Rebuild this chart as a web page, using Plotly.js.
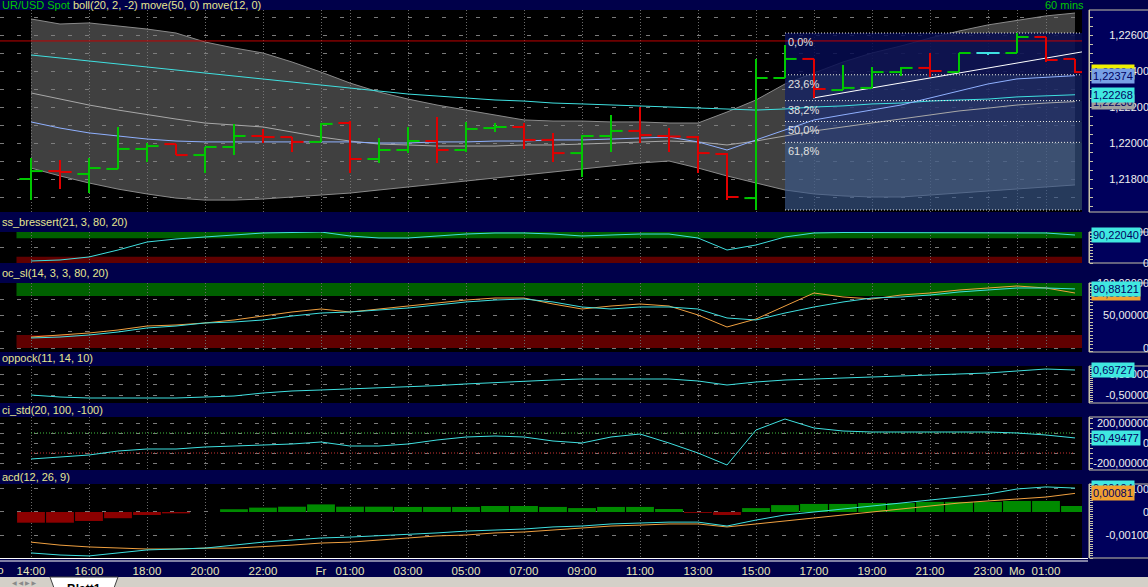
<!DOCTYPE html>
<html><head><meta charset="utf-8">
<script src="https://cdn.plot.ly/plotly-3.0.1.min.js"></script>
<style>html,body{margin:0;padding:0;background:#00004a;overflow:hidden}#chart{width:1152px;height:587px}</style>
</head><body><div id="chart"></div>
<script>
// ---------------- DATA ----------------
const hours = ['Do 14:00','Do 15:00','Do 16:00','Do 17:00','Do 18:00','Do 19:00','Do 20:00','Do 21:00','Do 22:00','Do 23:00',
 'Fr 00:00','Fr 01:00','Fr 02:00','Fr 03:00','Fr 04:00','Fr 05:00','Fr 06:00','Fr 07:00','Fr 08:00','Fr 09:00','Fr 10:00','Fr 11:00',
 'Fr 12:00','Fr 13:00','Fr 14:00','Fr 15:00','Fr 16:00','Fr 17:00','Fr 18:00','Fr 19:00','Fr 20:00','Fr 21:00','Fr 22:00','Fr 23:00',
 'Mo 00:00','Mo 01:00','Mo 02:00'];
const tickIdx  = [0,2,4,6,8,10,11,13,15,17,19,21,23,25,27,29,31,33,34,35];
const tickText = ['14:00','16:00','18:00','20:00','22:00','Fr','01:00','03:00','05:00','07:00','09:00','11:00','13:00','15:00','17:00','19:00','21:00','23:00','Mo','01:00'];

const barOpen  = [1.21800,1.21844,1.21828,1.21856,1.21967,1.21994,1.21933,1.21978,1.22039,1.22033,1.22006,1.22111,1.21911,1.21961,1.22011,1.21961,1.22083,1.22089,1.22017,1.21944,1.22039,1.22067,1.22039,1.22033,1.21939,1.21694,1.22361,1.22467,1.22294,1.22306,1.22394,1.22417,1.22394,1.22500,1.22500,1.22589,1.22467];
const barHigh  = [1.21917,1.21906,1.21917,1.22089,1.22000,1.21994,1.21978,1.22106,1.22078,1.22033,1.22111,1.22122,1.22028,1.22089,1.22144,1.22117,1.22111,1.22111,1.22056,1.22044,1.22156,1.22200,1.22083,1.22039,1.21944,1.22467,1.22544,1.22467,1.22433,1.22422,1.22422,1.22500,1.22500,1.22506,1.22611,1.22589,1.22467];
const barLow   = [1.21683,1.21744,1.21722,1.21856,1.21894,1.21933,1.21833,1.21933,1.22000,1.21950,1.22006,1.21833,1.21889,1.21944,1.21889,1.21950,1.22061,1.21967,1.21894,1.21811,1.21950,1.22000,1.21950,1.21833,1.21683,1.21628,1.22361,1.22250,1.22294,1.22306,1.22372,1.22367,1.22394,1.22489,1.22500,1.22450,1.22389];
const barClose = [1.21844,1.21839,1.21861,1.21967,1.21983,1.21933,1.21978,1.22039,1.22033,1.22006,1.22106,1.21911,1.21961,1.22011,1.21961,1.22078,1.22089,1.22017,1.21944,1.22039,1.22067,1.22044,1.22036,1.21944,1.21700,1.22361,1.22467,1.22300,1.22306,1.22394,1.22417,1.22400,1.22500,1.22500,1.22589,1.22461,1.22394];

const bollUpper = [1.22689,1.22661,1.22667,1.22650,1.22633,1.22611,1.22561,1.22528,1.22500,1.22450,1.22394,1.22333,1.22283,1.22244,1.22211,1.22183,1.22156,1.22128,1.22122,1.22122,1.22117,1.22117,1.22111,1.22111,1.22172,1.22239,1.22328,1.22389,1.22450,1.22500,1.22539,1.22583,1.22622,1.22656,1.22683,1.22706,1.22722];
const bollLower = [1.21861,1.21817,1.21778,1.21744,1.21717,1.21694,1.21683,1.21683,1.21689,1.21700,1.21711,1.21722,1.21739,1.21756,1.21772,1.21789,1.21806,1.21822,1.21839,1.21856,1.21872,1.21889,1.21900,1.21861,1.21817,1.21778,1.21739,1.21717,1.21706,1.21700,1.21700,1.21711,1.21722,1.21733,1.21744,1.21756,1.21767];
const bollMid   = [1.22278,1.22244,1.22211,1.22183,1.22156,1.22133,1.22111,1.22100,1.22089,1.22061,1.22033,1.22011,1.21994,1.21989,1.21983,1.21983,1.21983,1.21989,1.21989,1.21994,1.22000,1.22006,1.22011,1.22006,1.21989,1.22011,1.22039,1.22067,1.22089,1.22111,1.22133,1.22156,1.22178,1.22194,1.22211,1.22222,1.22230];
const ma50 = [1.22489,1.22472,1.22456,1.22439,1.22422,1.22406,1.22389,1.22372,1.22356,1.22339,1.22322,1.22306,1.22289,1.22272,1.22261,1.22250,1.22239,1.22233,1.22222,1.22217,1.22211,1.22206,1.22200,1.22194,1.22189,1.22183,1.22189,1.22200,1.22206,1.22217,1.22222,1.22233,1.22239,1.22244,1.22256,1.22261,1.22268];
const ma12 = [1.22117,1.22083,1.22056,1.22039,1.22022,1.22011,1.22006,1.22006,1.22006,1.22006,1.22006,1.22006,1.22000,1.22000,1.22006,1.22006,1.22011,1.22011,1.22017,1.22017,1.22022,1.22028,1.22033,1.22006,1.21961,1.22017,1.22072,1.22128,1.22156,1.22183,1.22211,1.22250,1.22289,1.22328,1.22356,1.22367,1.22374];
const resistanceLevel = 1.22567;
const trendX = [26.97, 36.24];
const trendY = [1.22250, 1.22506];
const fibRatios = [0, 0.236, 0.382, 0.5, 0.618, 1];
const fibStartIdx = 26;
const priceTicks = [1.217,1.218,1.219,1.220,1.221,1.222,1.223,1.224,1.225,1.226,1.227];

const bressert = [6.5,9.7,19.4,41.9,67.7,77.4,83.9,90.3,96.8,98.4,100,87.1,80.6,80.6,87.1,93.5,96.8,96.8,93.5,87.1,90.3,93.5,93.5,80.6,41.9,58.1,83.9,96.8,98.4,98.4,98.4,98.4,98.4,98.4,96.8,96.8,90.2204];
const stochK = [15.4,16.9,20.0,24.6,30.8,33.8,38.5,40.0,43.1,49.2,53.8,55.4,58.5,61.5,66.2,70.8,73.8,75.4,70.8,63.1,60.0,63.1,63.1,60.0,46.2,43.1,53.8,63.1,70.8,76.9,78.5,81.5,86.2,89.2,92.3,92.3,90.88121];
const stochD = [16.9,20.0,23.1,27.7,33.8,35.4,38.5,43.1,49.2,55.4,60.0,55.4,60.0,64.6,69.2,73.8,76.9,76.9,67.7,60.0,64.6,67.7,64.6,50.8,32.3,44.6,64.6,84.6,78.5,75.4,81.5,84.6,89.2,92.3,95.4,92.3,84.6];
const stochBands = {upper:[80,100], lower:[0,20]};
const coppock = [-0.500,-0.596,-0.644,-0.644,-0.644,-0.644,-0.596,-0.548,-0.404,-0.308,-0.260,-0.210,-0.160,-0.110,-0.050,0.030,0.100,0.160,0.218,0.266,0.266,0.266,0.266,0.171,-0.021,0.123,0.218,0.266,0.314,0.362,0.410,0.458,0.506,0.554,0.650,0.745,0.69727];
const cci = [-160,-140,-120,-80,-60,-60,-40,-30,-20,-10,10,-30,-30,-10,30,60,70,60,20,0,60,90,0,-100,-220,130,240,150,120,110,110,110,110,110,100,80,50.49477];
const cciLevels = [100, -100];
const macdLine = [-0.00178,-0.00187,-0.00191,-0.00178,-0.00165,-0.00161,-0.00157,-0.00144,-0.00131,-0.00122,-0.00113,-0.00109,-0.00104,-0.00096,-0.00091,-0.00083,-0.00078,-0.00074,-0.00065,-0.00061,-0.00052,-0.00048,-0.00044,-0.00044,-0.00061,-0.00035,-0.00013,0.00000,0.00013,0.00026,0.00039,0.00052,0.00065,0.00078,0.00100,0.00109,0.00104];
const macdSignal = [-0.00131,-0.00144,-0.00152,-0.00157,-0.00161,-0.00161,-0.00157,-0.00157,-0.00152,-0.00144,-0.00135,-0.00131,-0.00122,-0.00113,-0.00104,-0.00100,-0.00091,-0.00087,-0.00078,-0.00070,-0.00061,-0.00057,-0.00052,-0.00052,-0.00065,-0.00052,-0.00039,-0.00026,-0.00013,0.00000,0.00013,0.00026,0.00039,0.00048,0.00057,0.00065,0.00081];
const macdHist = [-0.000465,-0.000465,-0.00039,-0.00027,-0.00013,-0.00006,0,0.00012,0.00019,0.00023,0.00033,0.00023,0.00023,0.00022,0.00022,0.00022,0.00026,0.00026,0.00022,0.00017,0.00022,0.00022,0.00013,-0.00004,-0.00013,0.00017,0.00030,0.00035,0.00035,0.00039,0.00039,0.00044,0.00044,0.00044,0.00048,0.00048,0.00026];

// ---------------- LAYOUT GEOMETRY ----------------
const W = 1152, H = 587;   // figure is a few px wider than the window, so right-hand labels get clipped like the original
const PLOT_R = 1082, X0PX = 31, DXPX = 29;
const xRange = [-X0PX/DXPX, (PLOT_R - X0PX)/DXPX];
const panelPx = [[10,212],[232,263],[283,352],[366,403],[417,470],[484,558]];
const dom = p => [1 - p[1]/H, 1 - p[0]/H];
const py = v => 1 - v/H;
const yRanges = [[1.216167,1.227389],[0,100],[-6.15,100],[-0.883,0.889],[-270,260],[-0.002,0.001217]];

const X = hours.map((_, i) => i);
const fmt = (v, d) => v.toFixed(d).replace('.', ',');
const CYAN = '#3fe0e0', ORANGE = '#f0a040', LBLUE = '#8fb0ff';
const FONT = 'Liberation Sans, Arial, sans-serif';

// ---------------- TRACES ----------------
const traces = [];
const line = (x, y, color, yaxis, extra) => Object.assign({type:'scatter', mode:'lines', x, y, yaxis, line:{color, width:1}, hoverinfo:'skip'}, extra || {});

// Bollinger band
traces.push(line(X, bollLower, '#8a8a8a', 'y'));
traces.push(line(X, bollUpper, '#8a8a8a', 'y', {fill:'tonexty', fillcolor:'rgba(128,128,128,0.5)'}));
// Fibonacci zones (darker at the top)
const fibHi = Math.max(...barHigh), fibLo = Math.min(...barLow);
const fibLevels = fibRatios.map(r => fibHi - r*(fibHi - fibLo));
const fibZoneColors = ['rgba(6,12,80,0.86)','rgba(18,32,100,0.78)','rgba(28,46,112,0.74)','rgba(38,60,122,0.7)','rgba(58,88,138,0.66)'];
for (let k = 0; k < fibLevels.length - 1; k++) {
  const top = fibLevels[k], bot = fibLevels[k+1];
  traces.push({type:'scatter', mode:'none', x:[fibStartIdx, xRange[1], xRange[1], fibStartIdx, fibStartIdx],
    y:[bot, bot, top, top, bot], fill:'toself', fillcolor:fibZoneColors[k], yaxis:'y', hoverinfo:'skip'});
}
// resistance line
traces.push(line(xRange, [resistanceLevel, resistanceLevel], '#c00000', 'y'));
// moving averages
traces.push(line(X, bollMid, '#a8a8a8', 'y'));
traces.push(line(X, ma50, CYAN, 'y'));
traces.push(line(X, ma12, LBLUE, 'y'));
// fib level lines
{
  const fx = [], fy = [];
  fibLevels.forEach(l => { fx.push(fibStartIdx, xRange[1], null); fy.push(l, l, null); });
  traces.push(line(fx, fy, '#e8e8e8', 'y', {line:{color:'#e8e8e8', width:1, dash:'1px,2px'}}));
}
// trend line
traces.push(line(trendX, trendY, '#ffffff', 'y'));
// OHLC bars
const TW = 0.4;
function barSegs(test) {
  const xs = [], ys = [];
  X.forEach(i => {
    if (!test(i)) return;
    xs.push(i, i, null, i - TW, i, null, i, i + TW, null);
    ys.push(barLow[i], barHigh[i], null, barOpen[i], barOpen[i], null, barClose[i], barClose[i], null);
  });
  return {xs, ys};
}
[[i => barClose[i] > barOpen[i], '#00c800'], [i => barClose[i] < barOpen[i], '#e00000'], [i => barClose[i] === barOpen[i], CYAN]].forEach(([t, c]) => {
  const s = barSegs(t);
  traces.push(line(s.xs, s.ys, c, 'y', {line:{color:c, width:2}}));
});

// panel 2
traces.push(line(X, bressert, CYAN, 'y2'));
// panel 3
traces.push(line(X, stochD, ORANGE, 'y3'));
traces.push(line(X, stochK, CYAN, 'y3'));
// panel 4
traces.push(line(X, coppock, CYAN, 'y4'));
// panel 5
traces.push(line([X[0], X[X.length-1]], [cciLevels[0], cciLevels[0]], '#40c040', 'y5', {line:{color:'#40c040', width:1, dash:'1px,2px'}}));
traces.push(line([X[0], X[X.length-1]], [cciLevels[1], cciLevels[1]], '#c83030', 'y5', {line:{color:'#c83030', width:1, dash:'1px,2px'}}));
traces.push(line(X, cci, CYAN, 'y5'));
// panel 6
traces.push({type:'bar', x:X, y:macdHist, yaxis:'y6', hoverinfo:'skip',
  marker:{color: macdHist.map(v => v >= 0 ? '#008a00' : '#8c0000'), line:{width:0}}});
traces.push(line(X, macdSignal, ORANGE, 'y6'));
traces.push(line(X, macdLine, CYAN, 'y6'));
// dummies for ruler axes
for (let k = 7; k <= 12; k++) traces.push({type:'scatter', x:[], y:[], yaxis:'y'+k, hoverinfo:'skip'});

// ---------------- AXES ----------------
const layout = {
  width: W, height: H, margin:{l:0, r:0, t:0, b:0},
  paper_bgcolor:'#00004a', plot_bgcolor:'#000000',
  showlegend:false, hovermode:false, bargap:0.04,
  font:{family:FONT, size:11, color:'#e8e8e8'},
  xaxis:{domain:[0, PLOT_R/W], range:xRange, anchor:'y6', tickmode:'array', tickvals:tickIdx, ticktext:tickText,
    showgrid:true, gridcolor:'#6a6a6a', griddash:'1px,2px', gridwidth:1, zeroline:false, showline:false, ticks:'',
    tickfont:{family:FONT, size:11.5, color:'#e8e8b4'}, ticklabelstandoff:4, rangeslider:{visible:false}, fixedrange:true},
  shapes:[], annotations:[]
};
const yTickDefs = [
  {vals: priceTicks, text: priceTicks.map(v => Math.round(v*1000) % 2 === 0 ? fmt(v,5) : '')},
  {vals:[0,50,100], text:['0','','100,00000']},
  {vals:[0,25,50,75,100], text:['0','','50,00000','','100,00000']},
  {vals:[-0.5,0,0.5], text:['-0,50000','','0,50000']},
  {vals:[-200,-100,0,100,200], text:['-200,00000','','0','','200,00000']},
  {vals:[-0.001,0,0.001], text:['-0,00100','0','0,00100']}
];
const rulerDt = [0.0005, 10, 5, 0.1, 50, 0.0001];
panelPx.forEach((p, k) => {
  const id = k === 0 ? 'yaxis' : 'yaxis' + (k+1);
  layout[id] = {domain:dom(p), range:yRanges[k], anchor:'free', position:1, side:'right',
    ticklabelposition:'inside', ticklabeloverflow:'allow', tickmode:'array',
    tickvals:yTickDefs[k].vals, ticktext:yTickDefs[k].text,
    showgrid:true, gridcolor:'#7a7a7a', griddash:'4px,13px', gridwidth:1, zeroline:false, showline:false, ticks:'',
    tickfont:{family:FONT, size:11, color:'#f0f0f0'}, fixedrange:true};
  const rid = 'yaxis' + (k+7);
  layout[rid] = {overlaying: k === 0 ? 'y' : 'y'+(k+1), anchor:'free', position:1089/W, side:'right', range:yRanges[k],
    showline:true, linecolor:'#c8c4a8', linewidth:1, ticks:'outside', ticklen:3, tickcolor:'#c8c4a8', tickwidth:1,
    dtick:rulerDt[k], tick0:0, showticklabels:false, showgrid:false, zeroline:false, fixedrange:true};
  layout.shapes.push({type:'rect', xref:'paper', yref:'paper', x0:1089/W, x1:1.02, y0:dom(p)[0], y1:dom(p)[1],
    fillcolor:'#00005c', line:{color:'#c8c4a8', width:1}, layer:'below'});
});
// stochastic bands
['y2','y3'].forEach(ax => {
  layout.shapes.push({type:'rect', xref:'x', yref:ax, x0:-0.5, x1:xRange[1], y0:stochBands.upper[0], y1:stochBands.upper[1], fillcolor:'#006000', line:{width:0}, layer:'below'});
  layout.shapes.push({type:'rect', xref:'x', yref:ax, x0:-0.5, x1:xRange[1], y0:stochBands.lower[0], y1:stochBands.lower[1], fillcolor:'#600000', line:{width:0}, layer:'below'});
});
// white double line above time axis
[558.5, 561].forEach(v => layout.shapes.push({type:'line', xref:'paper', yref:'paper', x0:0, x1:1088/W, y0:py(v), y1:py(v), line:{color:'#ffffff', width:1}}));
// bottom tab bar
layout.shapes.push({type:'rect', xref:'paper', yref:'paper', x0:0, x1:1, y0:0, y1:py(577), fillcolor:'#d4d0c8', line:{width:0}});
layout.shapes.push({type:'path', xref:'paper', yref:'paper',
  path:`M ${50/W} ${py(577)} L ${54/W} ${py(588)} L ${114/W} ${py(588)} L ${118/W} ${py(577)} Z`,
  fillcolor:'#ffffff', line:{color:'#404040', width:1}});

// ---------------- ANNOTATIONS ----------------
const A = layout.annotations;
const strip = (txt, yc) => A.push({xref:'paper', yref:'paper', x:0, y:py(yc), xanchor:'left', yanchor:'middle',
  text:txt, showarrow:false, font:{family:FONT, size:11, color:'#e6e690'}});
strip('<span style="color:#00c800">UR/USD Spot</span> boll(20, 2, -2) move(50, 0) move(12, 0)', 5);
strip('ss_bressert(21, 3, 80, 20)', 222);
strip('oc_sl(14, 3, 3, 80, 20)', 273);
strip('oppock(11, 14, 10)', 358);
strip('ci_std(20, 100, -100)', 410);
strip('acd(12, 26, 9)', 477);
A.push({xref:'paper', yref:'paper', x:1086/W, y:py(5), xanchor:'right', yanchor:'middle', text:'60 mins', showarrow:false,
  font:{family:FONT, size:11, color:'#00c800'}});
// fib labels
fibLevels.forEach((l, k) => {
  if (fibRatios[k] === 1) return;
  A.push({xref:'x', yref:'y', x:fibStartIdx, y:l, xanchor:'left', yanchor:'top', xshift:1, yshift:-1,
    text:fmt(fibRatios[k]*100, 1) + '%', showarrow:false, font:{family:FONT, size:11, color:'#e0e0e0'}});
});
// value boxes
const box = (yref, v, dec, bg, fc) => A.push({xref:'paper', yref, x:1091/W, y:v, xanchor:'left', yanchor:'middle',
  text:fmt(v, dec), showarrow:false, bgcolor:bg, borderpad:1, font:{family:FONT, size:11, color:fc || '#000060'}});
const last = a => a[a.length-1];
box('y', last(barClose), 5, '#f0f000');
box('y', last(bollMid), 5, '#a0a0a0');
box('y', last(ma12), 5, '#78a0e6');
box('y', last(ma50), 5, '#40e8e0');
box('y2', last(bressert), 5, '#40e8e0');
box('y3', last(stochD), 5, '#f0a030');
box('y3', last(stochK), 5, '#40e8e0');
box('y4', last(coppock), 5, '#40e8e0');
box('y5', last(cci), 5, '#40e8e0');
box('y6', last(macdLine), 5, '#40e8e0');
box('y6', last(macdSignal), 5, '#f0a030');
// bottom bits
A.push({xref:'paper', yref:'paper', x:6/W, y:py(570), xanchor:'right', yanchor:'middle', text:'Do', showarrow:false,
  font:{family:FONT, size:11.5, color:'#e8e8b4'}});
A.push({xref:'paper', yref:'paper', x:84/W, y:py(580), xanchor:'center', yanchor:'top', text:'<b>Blatt1</b>', showarrow:false,
  font:{family:FONT, size:12, color:'#000000'}});
A.push({xref:'paper', yref:'paper', x:24/W, y:py(582), xanchor:'center', yanchor:'middle', text:'◀ ◀ ▶ ▶', showarrow:false,
  font:{family:'DejaVu Sans', size:6, color:'#8a8a8a'}});

Plotly.newPlot('chart', traces, layout, {staticPlot:true, displayModeBar:false});
</script></body></html>
